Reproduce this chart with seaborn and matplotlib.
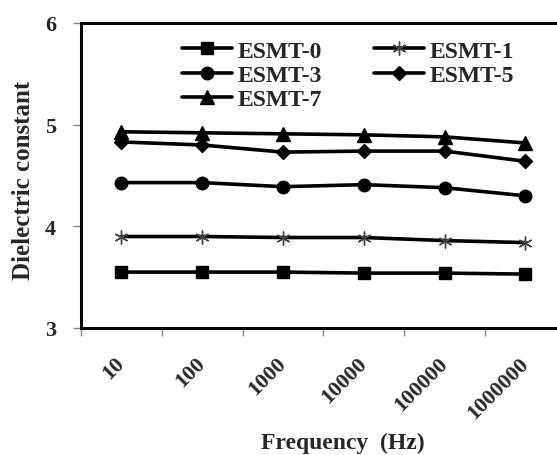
import matplotlib
matplotlib.use("Agg")
import matplotlib.pyplot as plt
import seaborn as sns
import pandas as pd

frequencies = ["10", "100", "1000", "10000", "100000", "1000000"]
esmt0 = [3.55, 3.55, 3.55, 3.54, 3.54, 3.53]
esmt1 = [3.90, 3.90, 3.89, 3.89, 3.86, 3.84]
esmt3 = [4.43, 4.43, 4.39, 4.41, 4.38, 4.30]
esmt5 = [4.83, 4.80, 4.73, 4.74, 4.74, 4.64]
esmt7 = [4.93, 4.92, 4.91, 4.90, 4.88, 4.82]
series_names = ["ESMT-0", "ESMT-1", "ESMT-3", "ESMT-5", "ESMT-7"]
series_values = [esmt0, esmt1, esmt3, esmt5, esmt7]

rows = []
for name, vals in zip(series_names, series_values):
    for i, (f, v) in enumerate(zip(frequencies, vals)):
        rows.append({"pos": i, "freq": f, "value": v, "series": name})
df = pd.DataFrame(rows)

sns.set_style("white")
plt.rcParams['font.family'] = ['Liberation Serif', 'DejaVu Serif']
plt.rcParams['font.weight'] = 'bold'

fig = plt.figure(figsize=(5.57, 4.56), dpi=100)
W, H = 557, 456
left, right, top, bottom = 81, 81 + 6 * 80.8, 24, 329
ax = fig.add_axes([left / W, 1 - bottom / H, (right - left) / W, (bottom - top) / H])

markers = {"ESMT-0": "s", "ESMT-1": (6, 2, 0), "ESMT-3": "o", "ESMT-5": "D", "ESMT-7": "^"}
sizes = {"ESMT-0": 8.5, "ESMT-1": 10, "ESMT-3": 9, "ESMT-5": 7, "ESMT-7": 9.5}

for name in series_names:
    sub = df[df.series == name]
    sns.lineplot(data=sub, x="pos", y="value", ax=ax, color="black", lw=2.6,
                 marker=markers[name], markersize=sizes[name],
                 markeredgecolor=("#444444" if name == "ESMT-1" else "black"),
                 markeredgewidth=1.0,
                 label=name, legend=False)

ax.set_xlim(-0.5, 5.5)
ax.set_ylim(3, 6)
ax.set_yticks([3, 4, 5, 6])
ax.set_yticklabels(["3", "4", "5", "6"], fontsize=16, fontweight="bold")
ax.set_xticks([i - 0.5 for i in range(7)])
ax.set_xticklabels([])
ax.set_xticks(list(range(6)), minor=True)
ax.set_xticklabels(frequencies, minor=True, rotation=45, ha="right", va="center",
                   rotation_mode="anchor", fontsize=16, fontweight="bold")
ax.tick_params(axis="x", which="minor", length=0, pad=23)
ax.tick_params(axis="x", which="major", length=6, width=1, color="#888888", direction="out", bottom=True)
ax.tick_params(axis="y", which="major", length=6, width=1, color="#888888", direction="out", left=True, pad=12)

for s in ["left", "bottom", "top", "right"]:
    ax.spines[s].set_color("black")
    ax.spines[s].set_linewidth(2.2)

ax.set_xlabel("Frequency  (Hz)", fontsize=17, fontweight="bold", va="center")
ax.set_ylabel("Dielectric constant", fontsize=18, fontweight="bold", va="center")
ax.xaxis.set_label_coords((343 - left) / (right - left), -(443 - bottom) / (bottom - top))
ax.yaxis.set_label_coords(-(left - 24) / (right - left), (bottom - 180) / (bottom - top))

handles, labels = ax.get_legend_handles_labels()
hmap = dict(zip(labels, handles))
order = ["ESMT-0", "ESMT-3", "ESMT-7", "ESMT-1", "ESMT-5"]
leg = ax.legend([hmap[k] for k in order], order, ncol=2, frameon=False,
                loc="upper left", bbox_to_anchor=((182 - left) / (right - left), 1 - (41 - top) / (bottom - top)),
                fontsize=17, handlelength=2.1, handletextpad=0.25, columnspacing=2.2,
                labelspacing=0.12, borderaxespad=0, borderpad=0)
for t in leg.get_texts():
    t.set_fontweight("bold")

fig.savefig("out.png", dpi=100)
